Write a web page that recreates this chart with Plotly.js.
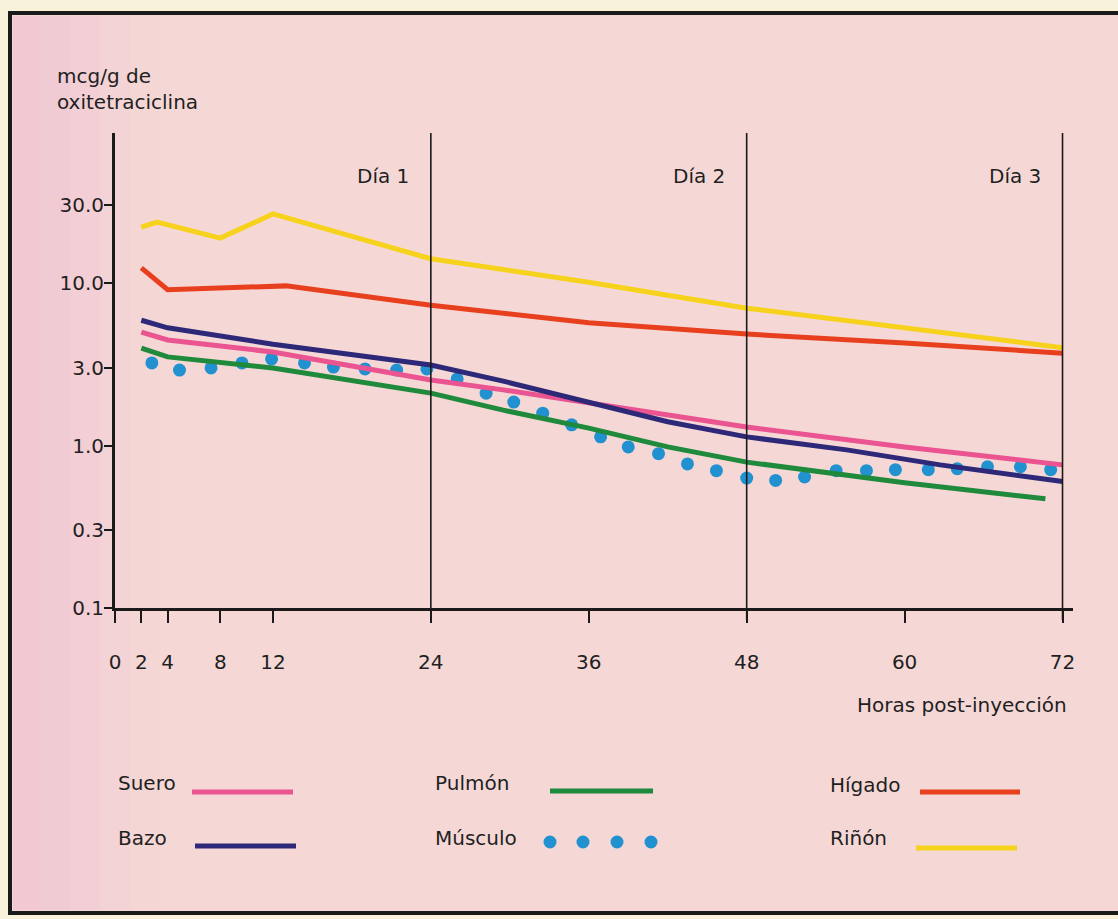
<!DOCTYPE html>
<html>
<head>
<meta charset="utf-8">
<script src="https://cdn.plot.ly/plotly-3.0.1.min.js"></script>
<style>
  html, body { margin: 0; padding: 0; background: #f7f2d9; }
  #chart { width: 1118px; height: 919px; }
</style>
</head>
<body>
<div id="chart"></div>
<script>
// ---- Data ----
const xTickVals = [0, 2, 4, 8, 12, 24, 36, 48, 60, 72];
const xTickText = ["0", "2", "4", "8", "12", "24", "36", "48", "60", "72"];
const yTickVals = [0.1, 0.3, 1, 3, 10, 30];
const yTickText = ["0.1", "0.3", "1.0", "3.0", "10.0", "30.0"];
const dayLines = [24, 48, 72];
const dayLabels = ["Día 1", "Día 2", "Día 3"];

const hoursRinon = [2, 3.2, 8, 12, 24, 36, 48, 60, 72];
const rinon      = [22.1, 23.7, 18.9, 26.6, 14.1, 10.1, 7.0, 5.3, 4.0];

const hoursHigado = [2, 4, 13, 24, 36, 48, 60, 72];
const higado      = [12.4, 9.1, 9.6, 7.3, 5.7, 4.85, 4.27, 3.7];

const hoursBazo = [2, 4, 12, 24, 29.5, 36, 42, 48, 55.6, 62.7, 72];
const bazo      = [5.9, 5.3, 4.2, 3.13, 2.49, 1.83, 1.40, 1.13, 0.94, 0.76, 0.60];

const hoursSuero = [2, 4, 12, 24, 29.5, 36, 42, 48, 60, 72];
const suero      = [4.99, 4.46, 3.76, 2.53, 2.20, 1.83, 1.54, 1.30, 0.98, 0.76];

const hoursPulmon = [2, 4, 12, 24, 29.5, 36, 42, 48, 60, 70.7];
const pulmon      = [3.98, 3.51, 3.0, 2.1, 1.65, 1.28, 0.98, 0.79, 0.59, 0.47];

const hoursMusculo = [2.8, 4.9, 7.3, 9.65, 11.9, 14.4, 16.6, 19.0, 21.4, 23.7, 26.0, 28.2, 30.3, 32.5, 34.7, 36.9,
                      39.0, 41.3, 43.5, 45.7, 48.0, 50.2, 52.4, 54.8, 57.1, 59.3, 61.8, 64.0, 66.3, 68.8, 71.1];
const musculo      = [3.22, 2.91, 3.0, 3.22, 3.41, 3.22, 3.04, 2.96, 2.91, 2.96, 2.57, 2.10, 1.85, 1.58, 1.34, 1.13,
                      0.98, 0.89, 0.77, 0.70, 0.63, 0.61, 0.64, 0.70, 0.70, 0.71, 0.71, 0.72, 0.74, 0.74, 0.71];

const seriesNames = ["Suero", "Bazo", "Pulmón", "Músculo", "Hígado", "Riñón"];
const colors = {
  "Suero": "#ea5490",
  "Bazo": "#2e2878",
  "Pulmón": "#1f8a3c",
  "Músculo": "#2291d0",
  "Hígado": "#e8401e",
  "Riñón": "#f6d21c"
};

// ---- Geometry helpers (plot area: left 115, right 1073, top 133, bottom 608) ----
const L = 115, R = 1073, T = 133, B = 608;
const W = R - L, H = B - T;
function pxX(x) { return (x - L) / W; }
function pxY(y) { return (B - y) / H; }

const FONT = "DejaVu Sans";
const TXT = "#1f1f1f";
const LW = 5;

function lineTrace(xs, ys, name) {
  return { x: xs, y: ys, name: name, type: "scatter", mode: "lines",
           line: { color: colors[name], width: LW }, hoverinfo: "x+y+name" };
}

const traces = [
  { x: hoursMusculo, y: musculo, name: "Músculo", type: "scatter", mode: "markers",
    marker: { color: colors["Músculo"], size: 13 } },
  lineTrace(hoursPulmon, pulmon, "Pulmón"),
  lineTrace(hoursSuero, suero, "Suero"),
  lineTrace(hoursBazo, bazo, "Bazo"),
  lineTrace(hoursHigado, higado, "Hígado"),
  lineTrace(hoursRinon, rinon, "Riñón")
];

const shapes = [];
// frame / background
shapes.push({ type: "rect", xref: "paper", yref: "paper", layer: "below",
  x0: pxX(10), x1: pxX(1130), y0: pxY(913), y1: pxY(13),
  fillcolor: "#f5d8d6", line: { color: "#1a1a1a", width: 4 } });
// soft pinker band on the left (faked gradient)
[[13, 40, 0.55], [40, 70, 0.45], [70, 100, 0.32], [100, 130, 0.18], [130, 160, 0.08]].forEach(b => {
  shapes.push({ type: "rect", xref: "paper", yref: "paper", layer: "below",
    x0: pxX(b[0]), x1: pxX(b[1]), y0: pxY(910), y1: pxY(16),
    fillcolor: "#eebcd0", opacity: b[2], line: { width: 0 } });
});
// day lines
dayLines.forEach(d => {
  shapes.push({ type: "line", xref: "x", yref: "paper", x0: d, x1: d,
    y0: -12 / H, y1: 1, line: { color: "#1a1a1a", width: 1.6 } });
});

const annotations = [];
annotations.push({ xref: "paper", yref: "paper", x: pxX(55), y: pxY(62),
  xanchor: "left", yanchor: "top", align: "left", showarrow: false,
  text: "mcg/g de<br>oxitetraciclina", font: { family: FONT, size: 20, color: TXT } });
dayLines.forEach((d, i) => {
  annotations.push({ xref: "x", yref: "paper", x: d, y: pxY(176), xshift: -20,
    xanchor: "right", yanchor: "middle", showarrow: false,
    text: dayLabels[i], font: { family: FONT, size: 20, color: TXT } });
});
annotations.push({ xref: "paper", yref: "paper", x: pxX(1069), y: pxY(705),
  xanchor: "right", yanchor: "middle", showarrow: false,
  text: "Horas post-inyección", font: { family: FONT, size: 20, color: TXT } });

// custom legend: text on the left, sample on the right
const legendItems = [
  { name: "Suero",   tx: 116, ty: 783, sx0: 192, sx1: 293, sy: 792 },
  { name: "Bazo",    tx: 116, ty: 838, sx0: 195, sx1: 296, sy: 846 },
  { name: "Pulmón",  tx: 433, ty: 783, sx0: 550, sx1: 653, sy: 791 },
  { name: "Músculo", tx: 433, ty: 838, dots: [550, 583, 617, 651], sy: 842 },
  { name: "Hígado",  tx: 828, ty: 785, sx0: 920, sx1: 1020, sy: 792 },
  { name: "Riñón",   tx: 828, ty: 838, sx0: 916, sx1: 1017, sy: 848 }
];
legendItems.forEach(it => {
  annotations.push({ xref: "paper", yref: "paper", x: pxX(it.tx), y: pxY(it.ty),
    xanchor: "left", yanchor: "middle", showarrow: false, text: it.name,
    font: { family: FONT, size: 20, color: TXT } });
  if (it.dots) {
    it.dots.forEach(cx => {
      shapes.push({ type: "circle", xref: "paper", yref: "paper",
        x0: pxX(cx - 6.5), x1: pxX(cx + 6.5), y0: pxY(it.sy + 6.5), y1: pxY(it.sy - 6.5),
        fillcolor: colors[it.name], line: { width: 0 } });
    });
  } else {
    shapes.push({ type: "line", xref: "paper", yref: "paper",
      x0: pxX(it.sx0), x1: pxX(it.sx1), y0: pxY(it.sy), y1: pxY(it.sy),
      line: { color: colors[it.name], width: LW } });
  }
});

const layout = {
  width: 1118, height: 919,
  margin: { l: L, r: 1118 - R, t: T, b: 919 - B, pad: 0 },
  paper_bgcolor: "#f7f2d9",
  plot_bgcolor: "rgba(0,0,0,0)",
  showlegend: false,
  font: { family: FONT, size: 20, color: TXT },
  xaxis: {
    range: [0, (R - L) / 13.16],
    tickvals: xTickVals, ticktext: xTickText,
    ticks: "outside", ticklen: 12, tickwidth: 2, tickcolor: "#1a1a1a",
    showline: true, linecolor: "#1a1a1a", linewidth: 3,
    showgrid: false, zeroline: false,
    tickfont: { family: FONT, size: 20, color: TXT },
    ticklabelstandoff: 22
  },
  yaxis: {
    type: "log",
    range: [-1, -1 + H / 162.5],
    tickvals: yTickVals, ticktext: yTickText,
    ticks: "outside", ticklen: 8, tickwidth: 2, tickcolor: "#1a1a1a",
    showline: true, linecolor: "#1a1a1a", linewidth: 3,
    showgrid: false, zeroline: false,
    tickfont: { family: FONT, size: 20, color: TXT },
    ticklabelstandoff: -4
  },
  shapes: shapes,
  annotations: annotations
};

Plotly.newPlot("chart", traces, layout, { displayModeBar: false, staticPlot: true });
</script>
</body>
</html>
